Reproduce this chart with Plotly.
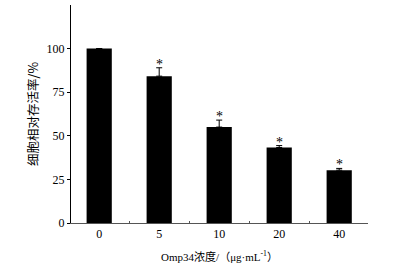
import plotly.graph_objects as go

categories = ["0", "5", "10", "20", "40"]
values = [100, 84.2, 55.0, 43.3, 30.3]
errors = [None, 4.8, 4.0, 1.1, 1.0]
stars = ["", "*", "*", "*", "*"]
y_ticks = [0, 25, 50, 75, 100]

font_family = "Liberation Serif, Times New Roman, Noto Sans CJK SC, serif"

fig = go.Figure()
fig.add_trace(go.Bar(
    x=categories, y=values,
    marker=dict(color="black", line=dict(width=0)),
    width=0.42,
    error_y=dict(type="data", array=errors,
                 arrayminus=[None if e is None else 0 for e in errors],
                 color="black", thickness=1, width=3, visible=True),
    showlegend=False,
    hoverinfo="skip",
))

for i, (v, e, s) in enumerate(zip(values, errors, stars)):
    if s:
        fig.add_annotation(x=i, y=v + (e or 0), text=s, showarrow=False,
                           xref="x", yref="y",
                           yanchor="bottom", yshift=-6,
                           font=dict(family=font_family, size=14, color="black"))

fig.update_layout(
    width=395, height=268,
    margin=dict(l=71, r=27, t=5, b=45),
    plot_bgcolor="white", paper_bgcolor="white",
    font=dict(family=font_family, size=12, color="black"),
    xaxis=dict(
        type="category", range=[-0.47, 4.48],
        showline=True, linecolor="#555", linewidth=1,
        ticks="inside", tickson="boundaries", ticklen=2, tickcolor="#555",
        showgrid=False, zeroline=False,
        tickfont=dict(size=12),
        title=dict(text="Omp34浓度/（μg·mL<sup>-1</sup>）", standoff=12,
                   font=dict(size=11, family="Liberation Serif, Noto Sans CJK SC, serif")),
    ),
    yaxis=dict(
        range=[0, 125], tickvals=y_ticks,
        showline=True, linecolor="black", linewidth=1,
        ticks="outside", ticklen=3, tickcolor="black",
        showgrid=False, zeroline=False,
        tickfont=dict(size=12),
        title=dict(text="细胞相对存活率/%", standoff=5,
                   font=dict(size=12.5, family="Noto Sans CJK SC, serif")),
    ),
)

fig.write_html("out.html", config={"displayModeBar": False},
               post_script="document.body.style.margin='0';")
